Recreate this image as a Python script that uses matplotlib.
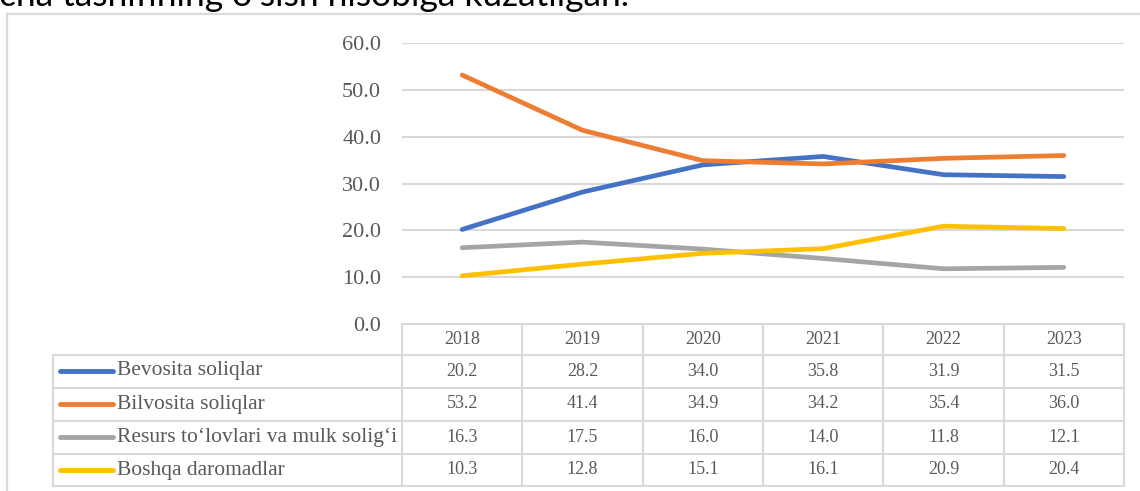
import matplotlib
matplotlib.use("Agg")
import matplotlib.pyplot as plt
from matplotlib.lines import Line2D

# ---- data ----
years = ["2018", "2019", "2020", "2021", "2022", "2023"]
series_names = ["Bevosita soliqlar", "Bilvosita soliqlar",
                "Resurs to\u2018lovlari va mulk solig\u2018i", "Boshqa daromadlar"]
bevosita = [20.2, 28.2, 34.0, 35.8, 31.9, 31.5]
bilvosita = [53.2, 41.4, 34.9, 34.2, 35.4, 36.0]
resurs = [16.3, 17.5, 16.0, 14.0, 11.8, 12.1]
boshqa = [10.3, 12.8, 15.1, 16.1, 20.9, 20.4]
yticks = [0, 10, 20, 30, 40, 50, 60]
colors = ["#4472C4", "#ED7D31", "#A5A5A5", "#FFC000"]
top_text = "cha tasnifining o\u2018sish hisobiga kuzatilgan."

all_series = [bevosita, bilvosita, resurs, boshqa]

W, H = 1140, 491
fig = plt.figure(figsize=(W / 100, H / 100), dpi=100)
fig.patch.set_facecolor("white")

def fx(x):
    return x / W

def fy(y):
    return 1 - y / H

grid_c = "#D9D9D9"
txt_c = "#595959"
serif = ["Liberation Serif", "DejaVu Serif"]

# geometry (pixels)
col_left, col_right = 402, 1124
leg_left = 53
y_top_plot, y_zero = 43.2, 324
row_edges = [324, 354.5, 387.5, 420.5, 454, 486]

# ---- top cut-off paragraph text ----
fig.text(fx(-1), fy(6.5), top_text, fontsize=25.5, family=["Lato", "DejaVu Sans"],
         color="black", va="baseline", ha="left")

# ---- chart frame (left and top visible) ----
fig.add_artist(Line2D([fx(7), fx(7)], [fy(14), fy(495)], color=grid_c, lw=1.6,
                      transform=fig.transFigure))
fig.add_artist(Line2D([fx(7), fx(1145)], [fy(14), fy(14)], color=grid_c, lw=1.6,
                      transform=fig.transFigure))

# ---- plot axes ----
ax = fig.add_axes([fx(col_left), fy(y_zero), fx(col_right) - fx(col_left),
                   fy(y_top_plot) - fy(y_zero)])
ax.set_xlim(-0.5, len(years) - 0.5)
ax.set_ylim(0, 60)
for s in ax.spines.values():
    s.set_visible(False)
ax.set_xticks([])
ax.set_yticks(yticks)
ax.set_yticklabels([f"{v:.1f}" for v in yticks], family=serif, fontsize=16, color=txt_c)
ax.tick_params(axis="y", length=0, pad=15)
for v in yticks[1:]:
    ax.axhline(v, color=grid_c, lw=1.5, zorder=0)
ax.patch.set_alpha(0)

xs = list(range(len(years)))
for vals, c in zip(all_series, colors):
    ax.plot(xs, vals, color=c, lw=3.4, solid_capstyle="round",
            solid_joinstyle="round", clip_on=False, zorder=3)

# ---- data table ----
def hline(x0, x1, y):
    fig.add_artist(Line2D([fx(x0), fx(x1)], [fy(y), fy(y)], color=grid_c, lw=1.5,
                          transform=fig.transFigure))

def vline(x, y0, y1):
    fig.add_artist(Line2D([fx(x), fx(x)], [fy(y0), fy(y1)], color=grid_c, lw=1.5,
                          transform=fig.transFigure))

ncol = len(years)
cw = (col_right - col_left) / ncol
hline(col_left, col_right, row_edges[0])
for y in row_edges[1:]:
    hline(leg_left, col_right, y)
for i in range(ncol + 1):
    vline(col_left + i * cw, row_edges[0], row_edges[-1])
vline(leg_left, row_edges[1], row_edges[-1])

# header row
yc = (row_edges[0] + row_edges[1]) / 2
for i, yr in enumerate(years):
    fig.text(fx(col_left + (i + 0.5) * cw), fy(yc), yr, family=serif, fontsize=13,
             color=txt_c, ha="center", va="center")

# series rows
for r, (name, vals, c) in enumerate(zip(series_names, all_series, colors)):
    y0, y1 = row_edges[r + 1], row_edges[r + 2]
    yc = (y0 + y1) / 2
    fig.add_artist(Line2D([fx(60), fx(113)], [fy(yc), fy(yc)], color=c, lw=3.5,
                          solid_capstyle="round", transform=fig.transFigure))
    fig.text(fx(117), fy(yc), name, family=serif, fontsize=15.5, color=txt_c,
             ha="left", va="center")
    for i, v in enumerate(vals):
        fig.text(fx(col_left + (i + 0.5) * cw), fy(yc), f"{v:.1f}", family=serif,
                 fontsize=13, color=txt_c, ha="center", va="center")

fig.savefig("out.png", dpi=100, facecolor="white")
